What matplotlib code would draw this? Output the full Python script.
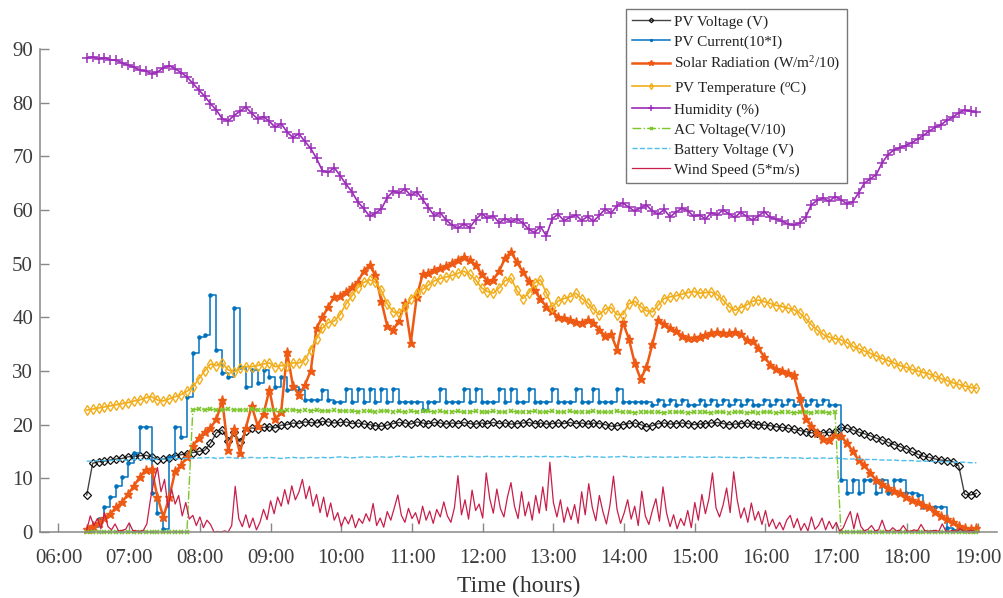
import matplotlib
matplotlib.use('Agg')
import matplotlib.pyplot as plt
import numpy as np

plt.rcParams['font.family'] = 'Liberation Serif'
plt.rcParams['mathtext.fontset'] = 'custom'
plt.rcParams['mathtext.rm'] = 'Liberation Serif'
plt.rcParams['mathtext.it'] = 'Liberation Serif:italic'

# sampling: 5-minute readings from 06:24, wind every 3 minutes
t5 = 6.4 + np.arange(152) / 12.0
t3 = 6.4 + np.arange(252) / 20.0

pv_voltage = [
    6.9, 12.8, 13.1, 13.2, 13.4, 13.6, 13.7, 14.0, 14.1, 14.2,
    14.3, 14.0, 13.5, 13.6, 13.8, 14.2, 14.4, 14.6, 14.8, 15.0,
    15.2, 16.5, 18.5, 19.0, 17.0, 18.6, 16.8, 18.9, 19.4, 19.2,
    19.5, 19.6, 19.4, 19.9, 20.0, 20.3, 20.2, 20.5, 20.4, 20.3,
    20.6, 20.5, 20.3, 20.4, 20.5, 20.2, 20.3, 20.1, 20.0, 19.8,
    19.7, 19.9, 20.2, 20.4, 20.3, 20.1, 20.5, 20.3, 20.2, 20.4,
    20.3, 20.1, 20.3, 20.2, 20.4, 20.2, 20.1, 20.3, 20.2, 20.4,
    20.2, 20.3, 20.1, 20.2, 20.3, 20.4, 20.2, 20.3, 20.1, 20.2,
    20.3, 20.2, 20.4, 20.2, 20.3, 20.1, 20.3, 20.2, 20.0, 19.7,
    19.8, 20.0, 20.2, 20.3, 20.0, 19.6, 19.8, 20.2, 20.3, 20.1,
    20.2, 20.3, 20.2, 20.0, 20.1, 20.2, 20.3, 20.4, 20.2, 20.0,
    20.1, 20.2, 20.3, 20.1, 20.0, 19.9, 19.8, 19.6, 19.5, 19.3,
    19.1, 18.9, 18.7, 18.5, 18.4, 18.5, 18.6, 18.6, 19.5, 19.3,
    19.0, 18.6, 18.3, 17.9, 17.5, 17.1, 16.7, 16.3, 15.9, 15.5,
    15.0, 14.5, 14.1, 13.9, 13.6, 13.4, 13.3, 13.1, 12.3, 7.0,
    6.9, 7.2]

pv_current = [
    0.4, 1.0, 2.5, 4.7, 6.5, 8.5, 10.3, 12.9, 14.7, 19.6,
    19.6, 7.3, 3.5, 0.6, 14.0, 19.6, 17.7, 25.2, 33.3, 36.3,
    36.7, 44.2, 33.9, 29.6, 28.9, 41.7, 30.8, 27.0, 30.2, 27.8,
    30.2, 28.9, 27.0, 28.9, 26.5, 27.0, 26.5, 24.6, 24.6, 24.6,
    26.5, 24.6, 24.2, 24.2, 26.6, 24.2, 26.6, 24.2, 26.6, 24.2,
    26.6, 24.2, 26.6, 24.2, 24.2, 24.2, 24.2, 22.7, 24.2, 24.2,
    26.6, 24.2, 24.2, 24.2, 26.6, 24.2, 26.6, 24.2, 24.2, 24.2,
    26.6, 24.2, 26.6, 24.2, 24.2, 26.6, 24.2, 24.2, 24.2, 26.6,
    24.2, 24.2, 24.2, 26.6, 24.2, 24.2, 26.6, 24.2, 24.2, 24.2,
    26.6, 24.2, 24.2, 24.2, 24.2, 24.2, 23.7, 24.6, 23.7, 24.6,
    23.7, 24.6, 23.7, 23.7, 24.6, 23.7, 24.6, 23.7, 24.6, 23.7,
    24.6, 23.7, 24.6, 23.7, 23.7, 24.6, 23.7, 24.6, 23.7, 24.6,
    23.7, 24.6, 23.7, 24.6, 23.7, 24.6, 23.7, 23.7, 9.7, 7.3,
    9.7, 7.3, 9.7, 9.7, 7.3, 9.7, 7.3, 9.7, 9.7, 7.3,
    7.3, 6.9, 4.7, 4.7, 4.7, 4.7, 0.7, 0.4, 0.4, 0.5,
    0.4, 0.4]

solar = [
    0.6, 1.2, 1.7, 2.6, 3.4, 4.6, 5.6, 7.0, 8.6, 10.2,
    11.6, 11.8, 6.5, 2.8, 6.5, 11.3, 12.4, 14.0, 16.0, 17.5,
    18.6, 19.4, 21.0, 24.5, 15.2, 19.2, 14.7, 19.4, 23.5, 19.8,
    22.0, 26.5, 21.0, 22.4, 33.5, 27.2, 25.5, 27.3, 30.0, 38.0,
    40.0, 42.0, 43.8, 44.0, 44.8, 45.6, 46.6, 48.6, 49.7, 47.8,
    43.0, 38.4, 37.6, 39.4, 42.6, 35.3, 43.8, 48.0, 48.2, 48.8,
    49.1, 49.5, 50.1, 50.7, 51.2, 50.6, 49.8, 48.0, 46.8, 47.0,
    48.6, 51.0, 52.2, 50.3, 48.5, 46.8, 45.0, 43.4, 42.0, 41.2,
    40.0, 39.8, 39.5, 39.2, 38.9, 39.5, 39.0, 37.7, 36.5, 36.8,
    34.0, 39.1, 36.0, 31.5, 28.5, 30.7, 35.0, 39.5, 38.7, 38.0,
    37.4, 36.6, 36.1, 36.2, 36.4, 36.7, 37.0, 37.3, 37.1, 37.0,
    37.3, 36.8, 35.8, 35.5, 34.2, 32.6, 31.2, 30.4, 30.0, 29.6,
    29.2, 25.0, 21.0, 19.8, 18.5, 17.4, 17.2, 18.0, 17.8, 16.6,
    15.0, 13.4, 12.4, 11.0, 9.6, 9.0, 8.2, 7.6, 7.2, 6.6,
    6.0, 5.5, 5.0, 4.6, 3.8, 3.0, 2.4, 1.8, 1.2, 0.8,
    0.6, 0.7]

pv_temp = [
    22.7, 22.9, 23.1, 23.3, 23.5, 23.7, 23.9, 24.1, 24.4, 24.6,
    25.0, 25.2, 24.6, 24.4, 24.8, 25.2, 25.6, 26.2, 27.0, 28.5,
    30.0, 31.3, 31.0, 31.5, 30.2, 29.8, 30.5, 30.8, 30.8, 31.0,
    31.3, 31.5, 30.8, 31.0, 31.0, 31.5, 31.5, 32.0, 34.0, 36.0,
    38.0, 39.0, 39.3, 40.5, 42.5, 44.0, 45.5, 46.5, 47.0, 46.5,
    45.0, 42.5, 41.0, 40.8, 42.0, 43.5, 44.5, 45.2, 46.0, 46.8,
    47.2, 47.5, 47.8, 48.2, 48.6, 48.0, 47.0, 45.5, 44.8, 44.5,
    45.5, 46.8, 47.3, 45.0, 43.5, 44.5, 46.4, 47.0, 44.5, 42.0,
    43.0, 43.5, 43.8, 44.5, 43.5, 42.7, 41.5, 40.5, 41.5, 41.8,
    40.5, 40.5, 42.5, 43.0, 42.0, 41.2, 41.0, 42.3, 43.5, 43.8,
    44.0, 44.3, 44.6, 44.8, 44.5, 44.6, 44.7, 44.2, 43.2, 42.0,
    41.3, 41.8, 42.3, 43.0, 43.2, 42.9, 42.6, 42.2, 42.0, 41.7,
    41.4, 40.8, 39.8, 38.6, 37.6, 36.8, 36.3, 36.0, 35.8, 35.3,
    34.6, 34.2, 33.7, 33.3, 32.8, 32.3, 31.9, 31.5, 31.0, 30.7,
    30.3, 30.0, 29.7, 29.4, 29.0, 28.6, 28.2, 27.8, 27.5, 27.2,
    26.9, 26.8]

humidity = [
    88.3, 88.5, 88.2, 88.4, 88.0, 87.9, 87.4, 87.0, 86.6, 86.1,
    85.9, 85.4, 85.7, 86.5, 86.9, 86.3, 85.6, 84.8, 83.6, 82.4,
    81.2, 79.8, 78.6, 77.0, 76.6, 77.6, 78.4, 79.2, 78.0, 77.0,
    77.4, 76.5, 75.4, 76.1, 74.5, 73.5, 74.2, 72.8, 71.5, 69.6,
    67.3, 67.0, 67.9, 66.4, 64.8, 63.4, 61.5, 60.3, 58.8, 59.4,
    60.2, 62.3, 63.5, 63.2, 63.9, 62.7, 63.4, 62.0, 60.4, 58.9,
    59.5, 58.1, 57.2, 56.6, 57.4, 56.7, 58.2, 59.3, 58.5, 58.9,
    57.6, 58.4, 57.8, 58.3, 57.6, 56.4, 55.8, 56.9, 55.2, 58.4,
    59.2, 58.0, 58.6, 59.1, 58.0, 58.8, 57.9, 59.0, 60.2, 59.4,
    60.8, 61.3, 60.5, 59.8, 60.4, 60.9, 59.8, 59.2, 60.1, 58.7,
    59.6, 60.3, 59.9, 58.8, 59.1, 58.3, 59.5, 59.1, 60.0, 59.3,
    58.6, 59.6, 58.8, 58.1, 58.9, 59.7, 58.6, 58.3, 57.9, 57.4,
    57.2, 57.6, 58.6, 61.0, 61.8, 62.2, 61.6, 62.5, 61.9, 61.2,
    61.5, 63.2, 65.0, 65.8, 66.6, 68.8, 70.3, 71.2, 71.6, 72.0,
    72.5, 73.2, 73.9, 74.7, 75.4, 75.9, 76.7, 77.3, 78.1, 78.6,
    78.4, 78.2]

ac_voltage = [
    0, 0, 0, 0, 0, 0, 0, 0, 0, 0,
    0, 0, 0, 0, 0, 0, 0, 0, 22.8, 22.9,
    22.8, 22.9, 22.7, 22.8, 22.9, 22.8, 22.7, 22.8, 22.9, 22.7,
    22.8, 22.7, 22.8, 22.6, 22.7, 22.8, 22.6, 22.7, 22.6, 22.7,
    22.6, 22.5, 22.7, 22.6, 22.5, 22.6, 22.4, 22.6, 22.5, 22.4,
    22.5, 22.6, 22.4, 22.5, 22.3, 22.5, 22.4, 22.6, 22.5, 22.4,
    22.5, 22.3, 22.4, 22.5, 22.3, 22.4, 22.5, 22.4, 22.3, 22.5,
    22.4, 22.3, 22.5, 22.4, 22.3, 22.4, 22.5, 22.3, 22.4, 22.5,
    22.3, 22.4, 22.5, 22.3, 22.4, 22.3, 22.5, 22.4, 22.3, 22.4,
    22.5, 22.3, 22.4, 22.2, 22.4, 22.3, 22.4, 22.3, 22.2, 22.4,
    22.3, 22.4, 22.2, 22.3, 22.4, 22.3, 22.2, 22.4, 22.3, 22.2,
    22.3, 22.4, 22.2, 22.3, 22.2, 22.4, 22.3, 22.2, 22.3, 22.4,
    22.2, 22.3, 22.4, 22.2, 22.3, 22.4, 22.2, 22.3, 0, 0,
    0, 0, 0, 0, 0, 0, 0, 0, 0, 0,
    0, 0, 0, 0, 0, 0, 0, 0, 0, 0,
    0, 0]

battery = [
    13.2, 13.2, 13.3, 13.3, 13.3, 13.4, 13.4, 13.4, 13.5, 13.5,
    13.5, 13.5, 13.6, 13.6, 13.6, 13.6, 13.7, 13.7, 13.7, 13.8,
    13.8, 13.9, 13.7, 13.8, 13.9, 13.8, 13.7, 13.8, 13.9, 13.8,
    13.8, 13.9, 13.8, 13.7, 13.8, 13.9, 13.8, 13.8, 13.9, 13.8,
    13.9, 13.8, 13.9, 14.0, 13.9, 13.8, 13.9, 14.0, 13.9, 14.0,
    14.0, 13.9, 14.0, 14.1, 14.0, 13.9, 14.0, 14.1, 14.0, 14.0,
    14.1, 14.0, 14.0, 14.1, 14.0, 14.1, 14.0, 14.0, 14.1, 14.0,
    14.0, 14.1, 14.0, 14.1, 14.0, 14.0, 14.1, 14.0, 14.1, 14.0,
    14.0, 14.1, 14.0, 13.9, 14.0, 14.1, 14.0, 14.0, 13.9, 14.0,
    14.0, 14.1, 14.0, 13.9, 14.0, 13.9, 14.0, 14.0, 13.9, 14.0,
    13.9, 14.0, 14.0, 13.9, 14.0, 13.9, 13.9, 14.0, 13.9, 13.9,
    13.9, 13.8, 13.9, 13.9, 13.8, 13.9, 13.8, 13.8, 13.9, 13.8,
    13.8, 13.8, 13.7, 13.8, 13.7, 13.8, 13.7, 13.8, 13.7, 13.6,
    13.6, 13.6, 13.5, 13.5, 13.5, 13.4, 13.4, 13.4, 13.3, 13.3,
    13.3, 13.2, 13.2, 13.2, 13.1, 13.1, 13.1, 13.0, 13.0, 13.0,
    12.9, 12.9]

wind = [
    0.4, 3.0, 1.2, 2.5, 0.6, 3.6, 1.0, 0.4, 1.5, 0.2, 0.3, 0.5, 1.7, 0.3, 0.2, 0.1, 0.3, 1.5, 6.0, 9.5,
    12.0, 7.5, 9.8, 4.5, 8.0, 5.2, 6.8, 3.0, 5.5, 2.4, 3.1, 1.2, 2.8, 0.8, 2.2, 1.4, 0.0, 0.1, 0.0, 0.2,
    0.0, 1.2, 8.5, 2.5, 1.0, 3.2, 0.8, 2.6, 0.4, 1.8, 4.2, 2.3, 5.8, 3.4, 6.5, 4.8, 7.9, 5.2, 8.6, 6.0,
    7.4, 9.8, 6.2, 8.5, 4.8, 7.0, 3.6, 6.5, 2.8, 5.4, 2.2, 3.6, 1.0, 2.8, 1.5, 3.2, 0.8, 2.5, 1.6, 3.4,
    2.0, 5.3, 1.2, 2.6, 0.9, 3.8, 2.2, 4.5, 6.9, 3.1, 1.8, 4.4, 2.5, 3.6, 1.5, 4.8, 2.2, 3.9, 1.6, 4.2,
    2.8, 5.6, 3.0, 1.8, 4.5, 10.5, 3.2, 6.0, 2.4, 7.8, 4.0, 5.2, 2.6, 11.0, 6.2, 3.5, 8.0, 4.4, 2.8, 6.5,
    9.2, 4.8, 2.5, 7.5, 3.0, 5.6, 2.2, 6.8, 3.5, 8.4, 4.0, 13.0, 5.5, 2.8, 6.0, 1.8, 4.6, 2.3, 5.1, 1.6,
    7.5, 3.2, 9.0, 4.6, 2.1, 6.8, 3.8, 1.5, 5.0, 10.4, 4.2, 1.6, 3.5, 6.0, 2.4, 4.8, 1.2, 7.6, 3.0, 1.4,
    4.0, 6.2, 2.0, 8.4, 3.6, 1.0, 3.2, 0.6, 2.5, 1.2, 4.0, 0.8, 5.5, 2.2, 7.0, 3.4, 6.2, 11.0, 4.5, 2.8,
    5.0, 8.2, 3.6, 11.2, 6.0, 2.6, 4.5, 1.8, 5.4, 2.2, 3.8, 1.4, 4.0, 1.0, 2.4, 0.6, 1.8, 0.4, 2.2, 3.1,
    0.8, 2.5, 0.3, 1.6, 0.2, 2.8, 0.5, 1.2, 2.6, 0.4, 2.0, 0.6, 1.8, 0.1, 0.8, 2.4, 3.8, 0.6, 3.5, 1.0,
    0.2, 0.5, 1.2, 0.2, 0.4, 2.2, 0.3, 0.1, 0.8, 0.2, 0.3, 1.2, 0.2, 0.1, 0.4, 0.2, 1.4, 0.3, 0.1, 0.2,
    0.3, 0.1, 1.5, 0.2, 0.1, 0.3, 0.1, 0.6, 0.2, 0.1, 0.3, 0.2]

hours = list(range(6, 20))
hour_labels = ['%02d:00' % h for h in hours]

fig = plt.figure(figsize=(10.04, 5.98), dpi=100)
ax = fig.add_axes([0.0398, 0.1104, 0.9532, 0.8077])

ax.plot(t5, pv_voltage, color='#444444', lw=1.0, marker='D', ms=3.8, mfc='none',
        mec='#111111', mew=0.9, label='PV Voltage (V)', clip_on=False)
ax.plot(t5, pv_current, color='#0072BD', lw=1.1, marker='.', ms=4.5,
        drawstyle='steps-post', label='PV Current(10*I)', clip_on=False)
ax.plot(t5, solar, color='#EE5A14', lw=1.8, marker='*', ms=6.5,
        label='Solar Radiation (W/m$^{2}$/10)', clip_on=False)
ax.plot(t5, pv_temp, color='#F2AE1C', lw=1.2, marker='d', ms=5, mfc='none', mew=1.0,
        label='PV Temperature ($^{o}$C)', clip_on=False)
ax.plot(t5, humidity, color='#9B2DB8', lw=1.2, marker='+', ms=7, mew=1.1,
        label='Humidity (%)', clip_on=False)
ax.plot(t5, ac_voltage, color='#7CC62A', lw=1.0, ls='-.', marker='x', ms=3.5, mew=1.2,
        label='AC Voltage(V/10)', clip_on=False)
ax.plot(t5, battery, color='#4DBEEE', lw=1.0, ls='--', label='Battery Voltage (V)')
ax.plot(t3, wind, color='#C81E4A', lw=0.9, label='Wind Speed (5*m/s)', clip_on=False)

ax.set_xlim(5.738, 19.274)
ax.set_ylim(0, 90)
ax.set_xticks(hours)
ax.set_xticklabels(hour_labels)
ax.set_yticks(range(0, 91, 10))

for s in ['top', 'right']:
    ax.spines[s].set_visible(False)
for s in ['left', 'bottom']:
    ax.spines[s].set_color('#888888')
    ax.spines[s].set_linewidth(1.1)

ax.tick_params(direction='in', length=6.5, width=1.0, color='#888888',
               labelsize=15, labelcolor='#3c3c3c')
ax.tick_params(axis='y', pad=5)
ax.tick_params(axis='x', pad=12)
ax.set_xlabel('Time (hours)', fontsize=17, color='#333333', labelpad=6)

leg = ax.legend(loc='upper right', bbox_to_anchor=(847 / 1004, 1 - 9 / 598),
                bbox_transform=fig.transFigure, fontsize=11, numpoints=1,
                markerscale=0.6, fancybox=False, edgecolor='#777777', framealpha=1,
                borderpad=0.4, labelspacing=0.4, handlelength=2.5,
                handletextpad=0.3, borderaxespad=0)
leg.get_frame().set_linewidth(1.0)
for txt in leg.get_texts():
    txt.set_color('#222222')

fig.savefig('out.png', dpi=100)
